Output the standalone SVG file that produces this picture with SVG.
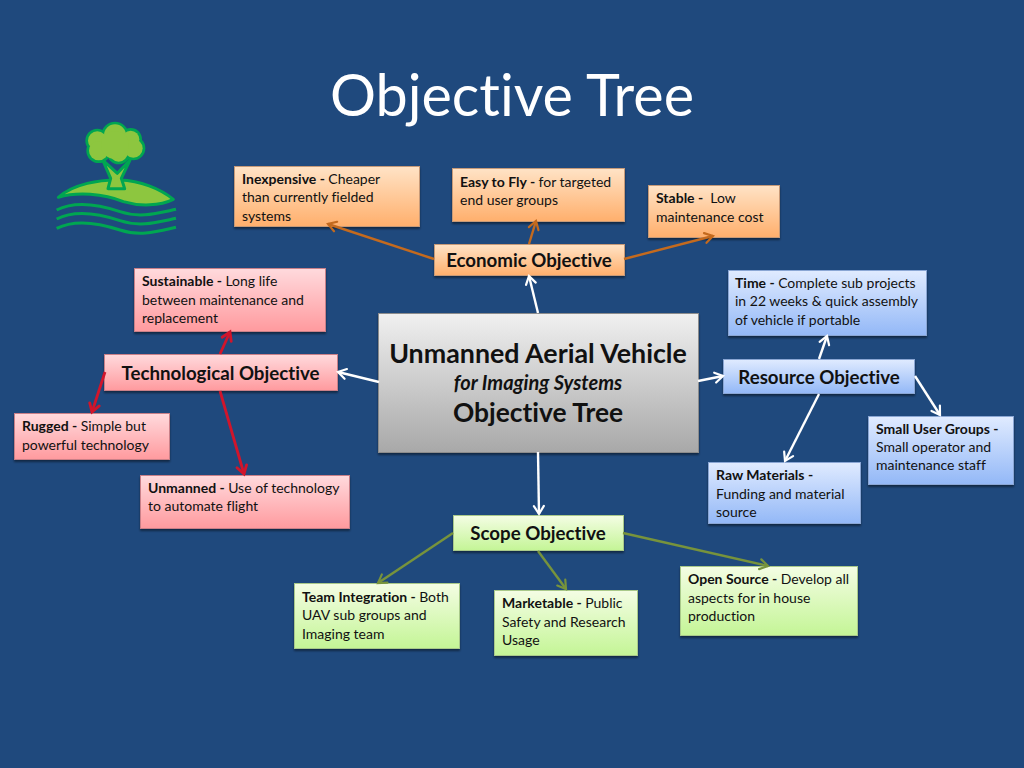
<svg xmlns="http://www.w3.org/2000/svg" width="1024" height="768" viewBox="0 0 1024 768">
<style>
text{font-family:"Lato","Carlito","Noto Sans",sans-serif;fill:#111;font-variant-ligatures:none}
.t{font-size:14px}
.h{font-size:18.700px;font-weight:700;text-anchor:middle}
.b{font-weight:700}
.o rect{fill:url(#go);stroke:#c79a78}
.r rect{fill:url(#gr);stroke:#c98088}
.u rect{fill:url(#gu);stroke:#8aa6d4}
.g rect{fill:url(#gg);stroke:#a9c98a}
.node rect{stroke-width:1;filter:url(#sh)}
#connectors line{stroke-width:2.400;fill:none}
#connectors line.cr{stroke-width:2.800}
.co{stroke:#c46a1e}.cr{stroke:#d1152b}.cw{stroke:#fff}.cg{stroke:#77933c}
.mk{fill:none;stroke-width:2.200;stroke-linecap:round;stroke-linejoin:miter}
</style>
<defs>
<linearGradient id="go" x1="0" y1="0" x2="0" y2="1"><stop offset="0" stop-color="#ffe3c6"/><stop offset="1" stop-color="#ffaf6c"/></linearGradient>
<linearGradient id="gr" x1="0" y1="0" x2="0" y2="1"><stop offset="0" stop-color="#ffdadd"/><stop offset="1" stop-color="#ff9a9e"/></linearGradient>
<linearGradient id="gu" x1="0" y1="0" x2="0" y2="1"><stop offset="0" stop-color="#e0ebff"/><stop offset="1" stop-color="#93b8f7"/></linearGradient>
<linearGradient id="gg" x1="0" y1="0" x2="0" y2="1"><stop offset="0" stop-color="#f4fde4"/><stop offset="1" stop-color="#c4f596"/></linearGradient>
<linearGradient id="gc" x1="0" y1="0" x2="0" y2="1"><stop offset="0" stop-color="#f0f0f0"/><stop offset="1" stop-color="#a8a8a8"/></linearGradient>
<filter id="sh" x="-10%" y="-10%" width="120%" height="130%"><feDropShadow dx="0" dy="2" stdDeviation="1.200" flood-color="#000" flood-opacity=".45"/></filter>
<marker id="mo" markerUnits="userSpaceOnUse" markerWidth="18" markerHeight="18" refX="13" refY="9" orient="auto"><path class="mk" stroke="#c46a1e" d="M5,4 L13,9 L5,14"/></marker>
<marker id="mr" markerUnits="userSpaceOnUse" markerWidth="18" markerHeight="18" refX="13" refY="9" orient="auto"><path class="mk" stroke="#d1152b" style="stroke-width:2.800" d="M5,4 L13,9 L5,14"/></marker>
<marker id="mw" markerUnits="userSpaceOnUse" markerWidth="18" markerHeight="18" refX="13" refY="9" orient="auto"><path class="mk" stroke="#fff" d="M5,4 L13,9 L5,14"/></marker>
<marker id="mg" markerUnits="userSpaceOnUse" markerWidth="18" markerHeight="18" refX="13" refY="9" orient="auto"><path class="mk" stroke="#77933c" d="M5,4 L13,9 L5,14"/></marker>
</defs>
<rect width="1024" height="768" fill="#1f497d"/>
<text x="512" y="116" text-anchor="middle" style="font-size:57.500px;fill:#fff">Objective Tree</text>
<g id="logo" transform="translate(40,110) scale(.3333)">
<path d="M50,300 C110,270 180,285 240,305 C300,325 350,310 408,298 M50,327 C110,297 180,312 240,332 C300,352 350,337 408,325 M50,355 C110,325 180,340 240,360 C300,380 350,365 408,352" fill="none" stroke="#00a651" stroke-width="9"/>
<path d="M55,262 C100,222 180,208 240,210 C300,212 360,235 400,268 C360,288 300,290 250,275 C190,250 110,245 55,262 Z" fill="#8dc63f" stroke="#00a651" stroke-width="9" stroke-linejoin="round"/>
<path d="M188,150 L212,205 L204,236 L254,236 L244,205 L270,150 L232,190 Z" fill="#8dc63f" stroke="#00a651" stroke-width="9" stroke-linejoin="round"/>
<g fill="#00a651"><circle cx="172" cy="92" r="36"/><circle cx="225" cy="76" r="41"/><circle cx="272" cy="88" r="34"/><circle cx="280" cy="115" r="36"/><circle cx="236" cy="128" r="35"/><circle cx="176" cy="122" r="37"/></g>
<g fill="#8dc63f"><circle cx="172" cy="92" r="28"/><circle cx="225" cy="76" r="33"/><circle cx="272" cy="88" r="26"/><circle cx="280" cy="115" r="28"/><circle cx="236" cy="128" r="27"/><circle cx="176" cy="122" r="29"/><circle cx="225" cy="105" r="42"/></g>
</g>
<g id="center" class="node"><rect x="378.500" y="313.500" width="320" height="139" fill="url(#gc)" stroke="#8c8c8c"/>
<text x="538" y="363" text-anchor="middle" style="font-size:26.800px;font-weight:700">Unmanned Aerial Vehicle</text>
<text x="538" y="390" text-anchor="middle" style="font-size:20px;font-weight:700;font-style:italic">for Imaging Systems</text>
<text x="538" y="422" text-anchor="middle" style="font-size:26.400px;font-weight:700">Objective Tree</text></g>
<g id="economic" class="node o"><rect x="434.500" y="244.500" width="190" height="31"/><text class="h" x="529" y="267">Economic Objective</text></g>
<g id="inexpensive" class="node o"><rect x="234.500" y="166.500" width="185" height="60"/><text class="t" x="242" y="184"><tspan class="b">Inexpensive - </tspan>Cheaper</text><text class="t" x="242" y="202">than currently fielded</text><text class="t" x="242" y="221">systems</text></g>
<g id="easy" class="node o"><rect x="452.500" y="168.500" width="172" height="53"/><text class="t" x="460" y="187"><tspan class="b">Easy to Fly - </tspan>for targeted</text><text class="t" x="460" y="205">end user groups</text></g>
<g id="stable" class="node o"><rect x="648.500" y="185.500" width="131" height="52"/><text class="t" x="656" y="203" xml:space="preserve"><tspan class="b">Stable - </tspan> Low</text><text class="t" x="656" y="222">maintenance cost</text></g>
<g id="technological" class="node r"><rect x="104.500" y="354.500" width="233" height="36"/><text class="h" x="220.500" y="380">Technological Objective</text></g>
<g id="sustainable" class="node r"><rect x="134.500" y="268.500" width="191" height="63"/><text class="t" x="142" y="286"><tspan class="b">Sustainable - </tspan>Long life</text><text class="t" x="142" y="305">between maintenance and</text><text class="t" x="142" y="323">replacement</text></g>
<g id="rugged" class="node r"><rect x="14.500" y="413.500" width="155" height="46"/><text class="t" x="22" y="431"><tspan class="b">Rugged - </tspan>Simple but</text><text class="t" x="22" y="450">powerful technology</text></g>
<g id="unmanned" class="node r"><rect x="140.500" y="475.500" width="209" height="53"/><text class="t" x="148" y="493"><tspan class="b">Unmanned - </tspan>Use of technology</text><text class="t" x="148" y="511">to automate flight</text></g>
<g id="resource" class="node u"><rect x="723.500" y="359.500" width="191" height="34"/><text class="h" x="819" y="384">Resource Objective</text></g>
<g id="time" class="node u"><rect x="728.500" y="270.500" width="198" height="65"/><text class="t" x="735" y="288"><tspan class="b">Time - </tspan>Complete sub projects</text><text class="t" x="735" y="306">in 22 weeks &amp; quick assembly</text><text class="t" x="735" y="325">of vehicle if portable</text></g>
<g id="small" class="node u"><rect x="868.500" y="416.500" width="145" height="68"/><text class="t" x="876" y="434" style="font-weight:700">Small User Groups -</text><text class="t" x="876" y="452">Small operator and</text><text class="t" x="876" y="470">maintenance staff</text></g>
<g id="raw" class="node u"><rect x="708.500" y="462.500" width="152" height="61"/><text class="t" x="716" y="480" style="font-weight:700">Raw Materials -</text><text class="t" x="716" y="499">Funding and material</text><text class="t" x="716" y="517">source</text></g>
<g id="scope" class="node g"><rect x="453.500" y="515.500" width="170" height="35"/><text class="h" x="538" y="540">Scope Objective</text></g>
<g id="team" class="node g"><rect x="294.500" y="583.500" width="165" height="65"/><text class="t" x="302" y="602"><tspan class="b">Team Integration - </tspan>Both</text><text class="t" x="302" y="620">UAV sub groups and</text><text class="t" x="302" y="639">Imaging team</text></g>
<g id="marketable" class="node g"><rect x="494.500" y="590.500" width="143" height="65"/><text class="t" x="502" y="608"><tspan class="b">Marketable - </tspan>Public</text><text class="t" x="502" y="627">Safety and Research</text><text class="t" x="502" y="645">Usage</text></g>
<g id="open" class="node g"><rect x="680.500" y="566.500" width="177" height="69"/><text class="t" x="688" y="584"><tspan class="b">Open Source - </tspan>Develop all</text><text class="t" x="688" y="603">aspects for in house</text><text class="t" x="688" y="621">production</text></g>
<g id="connectors">
<line class="cw" x1="538" y1="313" x2="529" y2="276" marker-end="url(#mw)"/>
<line class="co" x1="434" y1="259" x2="328" y2="224" marker-end="url(#mo)"/>
<line class="co" x1="529" y1="244" x2="536" y2="221" marker-end="url(#mo)"/>
<line class="co" x1="624" y1="259" x2="713" y2="236" marker-end="url(#mo)"/>
<line class="cw" x1="379" y1="382" x2="338" y2="372" marker-end="url(#mw)"/>
<line class="cr" x1="220" y1="354" x2="230" y2="332" marker-end="url(#mr)"/>
<line class="cr" x1="105" y1="372" x2="92" y2="412" marker-end="url(#mr)"/>
<line class="cr" x1="220" y1="391" x2="244" y2="474" marker-end="url(#mr)"/>
<line class="cw" x1="698" y1="381" x2="723" y2="376" marker-end="url(#mw)"/>
<line class="cw" x1="819" y1="359" x2="827" y2="336" marker-end="url(#mw)"/>
<line class="cw" x1="819" y1="394" x2="785" y2="461" marker-end="url(#mw)"/>
<line class="cw" x1="915" y1="376" x2="940" y2="415" marker-end="url(#mw)"/>
<line class="cw" x1="538" y1="452" x2="539" y2="514" marker-end="url(#mw)"/>
<line class="cg" x1="453" y1="533" x2="378" y2="583" marker-end="url(#mg)"/>
<line class="cg" x1="538" y1="551" x2="566" y2="589" marker-end="url(#mg)"/>
<line class="cg" x1="623" y1="533" x2="768" y2="566" marker-end="url(#mg)"/>
</g>
</svg>
